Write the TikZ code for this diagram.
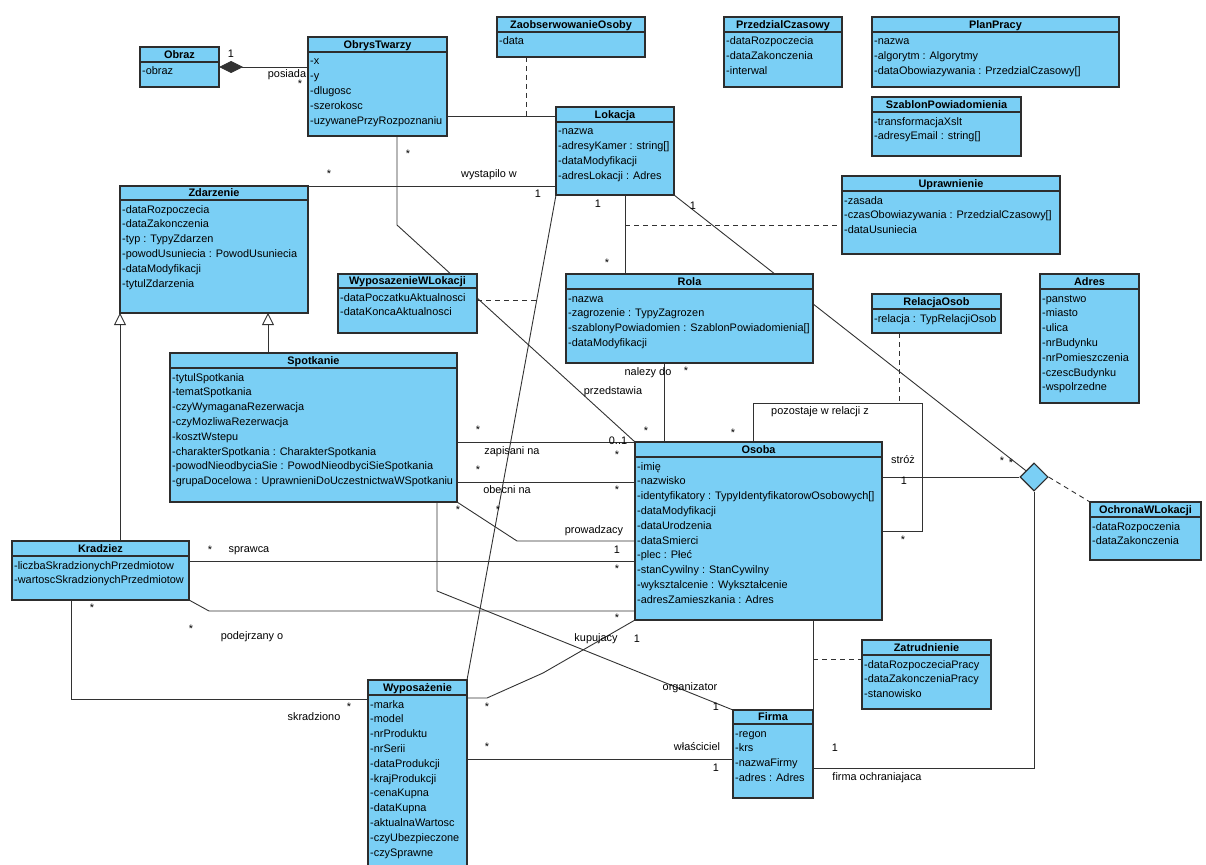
\documentclass[tikz,border=0pt]{standalone}
\usepackage{fontspec}
\setmainfont{Liberation Sans}
\usetikzlibrary{arrows.meta,shapes.geometric,calc}
\pgfdeclarelayer{bg}
\pgfsetlayers{bg,main}
\definecolor{clsfill}{RGB}{122,207,245}
\definecolor{bord}{RGB}{45,45,45}
\definecolor{conn}{RGB}{50,50,50}
\tikzset{
  cls/.style={draw=bord, fill=clsfill, line width=1.1pt, anchor=north west, inner sep=0pt, outer sep=0pt},
  divl/.style={draw=bord, line width=1.1pt},
  ttl/.style={anchor=base, inner sep=0pt, font=\fontsize{10.9}{13}\selectfont\bfseries},
  att/.style={anchor=base west, inner sep=0pt, font=\fontsize{10.9}{13}\selectfont},
  lbl/.style={anchor=base, inner sep=0pt, font=\fontsize{10.9}{13}\selectfont},
  assoc/.style={draw=conn, line width=0.9pt},
  dep/.style={assoc, dash pattern=on 5pt off 4pt},
  gen/.style={assoc, -{Triangle[open, length=12pt, width=12pt, fill=white]}},
  comp/.style={assoc, {Diamond[length=24pt, width=12pt]}-},
  nary/.style={diamond, draw=bord, fill=clsfill, line width=1.1pt, minimum width=28pt, minimum height=28pt, inner sep=0pt},
}
\newcommand\umlclass[8]{%
  \pgfmathsetmacro\clsW{#4-#2}%
  \pgfmathsetmacro\clsH{#5-#3}%
  \node[cls, minimum width=\clsW pt, minimum height=\clsH pt] (#1) at (#2,#3) {};
  \draw[divl] (#2,#6) -- (#4,#6);
  \node[ttl] (#1-t) at ({(#2+#4)/2},{#6-3.5}) {#7};
  \foreach \a [count=\i from 0] in {#8} {\node[att] (#1-a\i) at ({#2+2},{#6+13+14.8*\i}) {\a};}
}
\begin{document}
\begin{tikzpicture}[x=1pt,y=-1pt]
\useasboundingbox (0,0) rectangle (1206,864);
\clip (0,0) rectangle (1206,864);

% classes
\umlclass{obraz}{140}{47}{219}{87}{62}{Obraz}{-obraz}
\umlclass{obrys}{308}{37}{447}{136}{52}{ObrysTwarzy}{-x,-y,-dlugosc,-szerokosc,-uzywanePrzyRozpoznaniu}
\umlclass{zao}{497}{17}{645}{57}{32}{ZaobserwowanieOsoby}{-data}
\umlclass{prz}{724}{17}{842}{87}{32}{PrzedzialCzasowy}{-dataRozpoczecia,-dataZakonczenia,-interwal}
\umlclass{plan}{872}{17}{1119}{87}{32}{PlanPracy}{-nazwa,-algorytm : Algorytmy,-dataObowiazywania : PrzedzialCzasowy[]}
\umlclass{szab}{872}{97}{1021}{156}{112}{SzablonPowiadomienia}{-transformacjaXslt,-adresyEmail : string[]}
\umlclass{lok}{556}{107}{674}{195}{122}{Lokacja}{-nazwa,-adresyKamer : string[],-dataModyfikacji,-adresLokacji : Adres}
\umlclass{upr}{842}{176}{1060}{254}{191}{Uprawnienie}{-zasada,-czasObowiazywania : PrzedzialCzasowy[],-dataUsuniecia}
\umlclass{zd}{120}{186}{308}{313}{200}{Zdarzenie}{-dataRozpoczecia,-dataZakonczenia,-typ : TypyZdarzen,-powodUsuniecia : PowodUsuniecia,-dataModyfikacji,-tytulZdarzenia}
\umlclass{wwl}{338}{274}{477}{333}{288}{WyposazenieWLokacji}{-dataPoczatkuAktualnosci,-dataKoncaAktualnosci}
\umlclass{rola}{566}{274}{813}{363}{289}{Rola}{-nazwa,-zagrozenie : TypyZagrozen,-szablonyPowiadomien : SzablonPowiadomienia[],-dataModyfikacji}
\umlclass{rel}{872}{294}{1001}{333}{309}{RelacjaOsob}{-relacja : TypRelacjiOsob}
\umlclass{adres}{1040}{274}{1139}{403}{289}{Adres}{-panstwo,-miasto,-ulica,-nrBudynku,-nrPomieszczenia,-czescBudynku,-wspolrzedne}
\umlclass{spot}{170}{353}{457}{502}{368}{Spotkanie}{-tytulSpotkania,-tematSpotkania,-czyWymaganaRezerwacja,-czyMozliwaRezerwacja,-kosztWstepu,-charakterSpotkania : CharakterSpotkania,-powodNieodbyciaSie : PowodNieodbyciSieSpotkania,-grupaDocelowa : UprawnieniDoUczestnictwaWSpotkaniu}
\umlclass{osoba}{635}{442}{882}{620}{457}{Osoba}{-imię,-nazwisko,-identyfikatory : TypyIdentyfikatorowOsobowych[],-dataModyfikacji,-dataUrodzenia,-dataSmierci,-plec : Płeć,-stanCywilny : StanCywilny,-wyksztalcenie : Wykształcenie,-adresZamieszkania : Adres}
\umlclass{krad}{12}{541}{189}{600}{556}{Kradziez}{-liczbaSkradzionychPrzedmiotow,-wartoscSkradzionychPrzedmiotow}
\umlclass{ochr}{1090}{502}{1201}{560}{517}{OchronaWLokacji}{-dataRozpoczenia,-dataZakonczenia}
\umlclass{zat}{862}{640}{991}{709}{655}{Zatrudnienie}{-dataRozpoczeciaPracy,-dataZakonczeniaPracy,-stanowisko}
\umlclass{firma}{733}{710}{813}{798}{724}{Firma}{-regon,-krs,-nazwaFirmy,-adres : Adres}
\umlclass{wyp}{368}{680}{467}{880}{695}{Wyposażenie}{-marka,-model,-nrProduktu,-nrSerii,-dataProdukcji,-krajProdukcji,-cenaKupna,-dataKupna,-aktualnaWartosc,-czyUbezpieczone,-czySprawne}

\node[nary] (dia) at (1034,477) {};

% connectors
\begin{pgfonlayer}{bg}
\draw[comp] (obraz.east |- 0,67) -- (obrys.west |- 0,67);
\draw[assoc] (obrys.east |- 0,116) -- (lok.west |- 0,116);
\draw[dep] (zao.south -| 526,0) -- (526,116);
\draw[assoc] (zd.north east) -- (lok.west |- zd.north east);
\draw[assoc] (obrys.south -| 397,0) -- (397,225) -- (osoba.north west);
\draw[assoc] (lok.south -| 625,0) -- (rola.north -| 625,0);
\draw[dep] (625,225) -- (upr.west |- 0,225);
\draw[assoc] (lok.south west) -- (wyp.north east);
\coordinate (wwlp) at ($(lok.south west)!0.2165!(wyp.north east)$);
\draw[dep] (wwl.east |- wwlp) -- (wwlp);
\draw[assoc] (lok.south east) -- (dia);
\draw[assoc] (osoba.east |- dia.west) -- (dia.west);
\draw[assoc] (dia.south) |- (firma.east |- 0,768);
\draw[dep] (dia.east) -- (ochr.north west);
\draw[assoc] (rola.south -| 664,0) -- (osoba.north -| 664,0);
\draw[dep] (rel.south -| 899,0) -- (899,403);
\draw[assoc] (osoba.north -| 753,0) |- (922,403) |- (osoba.east |- 0,531);
\draw[assoc] (spot.east |- 0,442) -- (osoba.north west);
\draw[assoc] (spot.east |- 0,482) -- (osoba.west |- 0,482);
\draw[assoc] (spot.south east) -- (517,541) -- (osoba.west |- 0,541);
\draw[assoc] (krad.east |- 0,561) -- (osoba.west |- 0,561);
\draw[assoc] (krad.south east) -- (209,611) -- (osoba.west |- 0,611);
\draw[assoc] (krad.south -| 71,0) |- (wyp.west |- 0,699);
\draw[assoc] (spot.south -| 437,0) -- (437,591) -- (firma.north west);
\draw[assoc] (osoba.south west) -- (543,673) -- (487,698) -- (wyp.east |- 0,698);
\draw[assoc] (wyp.east |- 0,759) -- (firma.west |- 0,759);
\draw[assoc] (osoba.south -| firma.north east) -- (firma.north east);
\draw[dep] (813,659) -- (zat.west |- 0,659);
\draw[gen] (krad.north -| 120,0) -- (zd.south -| 120,0);
\draw[gen] (spot.north -| 268,0) -- (zd.south -| 268,0);
\end{pgfonlayer}

% labels
\node[lbl] (l1) at (231,58) {1};
\node[lbl] (l2) at (287,78) {posiada};
\node[lbl] (l3) at (300,88) {*};
\node[lbl] (l4) at (489,177) {wystapilo w};
\node[lbl] (l5) at (538,197) {1};
\node[lbl] (l6) at (329,177) {*};
\node[lbl] (l7) at (613,394) {przedstawia};
\node[lbl] (l8) at (408,157) {*};
\node[lbl] (l9) at (618,444) {0..1};
\node[lbl] (l10) at (598,207) {1};
\node[lbl] (l11) at (607,266) {*};
\node[lbl] (l12) at (693,209) {1};
\node[lbl] (l13) at (1002,464) {*};
\node[lbl] (l14) at (1011,466) {*};
\node[lbl] (l15) at (648,375) {nalezy do};
\node[lbl] (l16) at (686,374) {*};
\node[lbl] (l17) at (646,434) {*};
\node[lbl] (l18) at (820,414) {pozostaje w relacji z};
\node[lbl] (l19) at (733,436) {*};
\node[lbl] (l20) at (903,543) {*};
\node[lbl] (l21) at (903,463) {stróż};
\node[lbl] (l22) at (904,484) {1};
\node[lbl] (l23) at (835,751) {1};
\node[lbl] (l24) at (877,780) {firma ochraniajaca};
\node[lbl] (l25) at (512,454) {zapisani na};
\node[lbl] (l26) at (478,433) {*};
\node[lbl] (l27) at (617,458) {*};
\node[lbl] (l28) at (507,493) {obecni na};
\node[lbl] (l29) at (478,473) {*};
\node[lbl] (l30) at (617,493) {*};
\node[lbl] (l31) at (594,533) {prowadzacy};
\node[lbl] (l32) at (617,553) {1};
\node[lbl] (l33) at (458,513) {*};
\node[lbl] (l34) at (498,513) {*};
\node[lbl] (l35) at (210,553) {*};
\node[lbl] (l36) at (249,552) {sprawca};
\node[lbl] (l37) at (617,572) {*};
\node[lbl] (l38) at (191,632) {*};
\node[lbl] (l39) at (252,639) {podejrzany o};
\node[lbl] (l40) at (92,611) {*};
\node[lbl] (l41) at (617,621) {*};
\node[lbl] (l42) at (349,710) {*};
\node[lbl] (l43) at (314,720) {skradziono};
\node[lbl] (l44) at (596,641) {kupujacy};
\node[lbl] (l45) at (637,642) {1};
\node[lbl] (l46) at (487,710) {*};
\node[lbl] (l47) at (690,690) {organizator};
\node[lbl] (l48) at (716,710) {1};
\node[lbl] (l49) at (697,750) {właściciel};
\node[lbl] (l50) at (716,771) {1};
\node[lbl] (l51) at (487,750) {*};
\end{tikzpicture}
\end{document}
